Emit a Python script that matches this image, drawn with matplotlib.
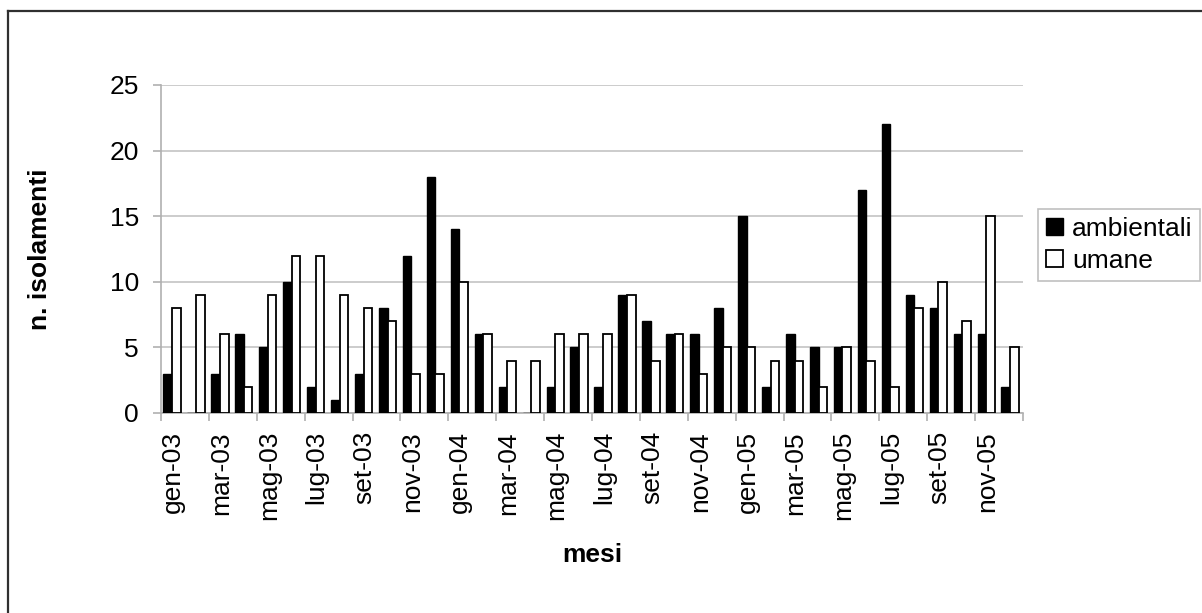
import matplotlib
matplotlib.use("Agg")
import matplotlib.pyplot as plt
import numpy as np
from matplotlib.lines import Line2D

plt.rcParams['font.family'] = ['Liberation Sans', 'DejaVu Sans']

months = ["gen-03", "feb-03", "mar-03", "apr-03", "mag-03", "giu-03", "lug-03", "ago-03",
          "set-03", "ott-03", "nov-03", "dic-03",
          "gen-04", "feb-04", "mar-04", "apr-04", "mag-04", "giu-04", "lug-04", "ago-04",
          "set-04", "ott-04", "nov-04", "dic-04",
          "gen-05", "feb-05", "mar-05", "apr-05", "mag-05", "giu-05", "lug-05", "ago-05",
          "set-05", "ott-05", "nov-05", "dic-05"]
ambientali = [3, 0, 3, 6, 5, 10, 2, 1, 3, 8, 12, 18,
              14, 6, 2, 0, 2, 5, 2, 9, 7, 6, 6, 8,
              15, 2, 6, 5, 5, 17, 22, 9, 8, 6, 6, 2]
umane = [8, 9, 6, 2, 9, 12, 12, 9, 8, 7, 3, 3,
         10, 6, 4, 4, 6, 6, 6, 9, 4, 6, 3, 5,
         5, 4, 4, 2, 5, 4, 2, 8, 10, 7, 15, 5]
yticks = [0, 5, 10, 15, 20, 25]

W, H = 1202, 613
fig = plt.figure(figsize=(W / 100, H / 100), dpi=100)
ax = fig.add_axes([161 / W, 1 - 413 / H, (1023 - 161) / W, (413 - 85) / H])

x = np.arange(len(months))
bw = 0.36
ax.bar(x - bw / 2 - 0.04, ambientali, width=bw, color='black', edgecolor='black',
       linewidth=1.0, label='ambientali', zorder=3)
ax.bar(x + bw / 2 - 0.04, umane, width=bw, color='white', edgecolor='black',
       linewidth=1.3, label='umane', zorder=3)

ax.set_xlim(-0.5, len(months) - 0.5)
ax.set_ylim(0, 25)
ax.set_yticks(yticks)
ax.grid(axis='y', color='#c4c4c4', linewidth=1.2, zorder=0)
for s in ['top', 'right']:
    ax.spines[s].set_visible(False)
for s in ['left', 'bottom']:
    ax.spines[s].set_color('#b0b0b0')
    ax.spines[s].set_linewidth(1.2)

ax.set_xticks(x[::2])
ax.set_xticklabels(months[::2], rotation=90, fontsize=19)
ax.set_xticks(np.arange(-0.5, len(months), 2), minor=True)
ax.tick_params(axis='x', which='major', length=0, pad=13)
ax.tick_params(axis='x', which='minor', length=6, color='#b0b0b0', width=1.2)
ax.tick_params(axis='y', length=6, color='#b0b0b0', width=1.2, labelsize=19, pad=10)

fig.text(40 / W, 1 - 249 / H, 'n. isolamenti', rotation=90, ha='center', va='center',
         fontsize=19, fontweight='bold')
fig.text(592 / W, 1 - 555 / H, 'mesi', ha='center', va='center',
         fontsize=19, fontweight='bold')

leg = fig.legend(loc='upper left', bbox_to_anchor=(1038 / W, 1 - 209 / H),
                 borderaxespad=0, fontsize=19, frameon=True, fancybox=False,
                 handlelength=0.64, handleheight=0.64, handletextpad=0.35,
                 labelspacing=0.3, borderpad=0.3)
leg.get_frame().set_edgecolor('#b0b0b0')
leg.get_frame().set_linewidth(1.2)

fig.add_artist(Line2D([8 / W, 8 / W], [0, 1 - 11 / H], transform=fig.transFigure,
                      color='#303030', linewidth=1.6))
fig.add_artist(Line2D([8 / W, 1], [1 - 11 / H, 1 - 11 / H], transform=fig.transFigure,
                      color='#303030', linewidth=1.6))

fig.savefig('out.png', dpi=100)
